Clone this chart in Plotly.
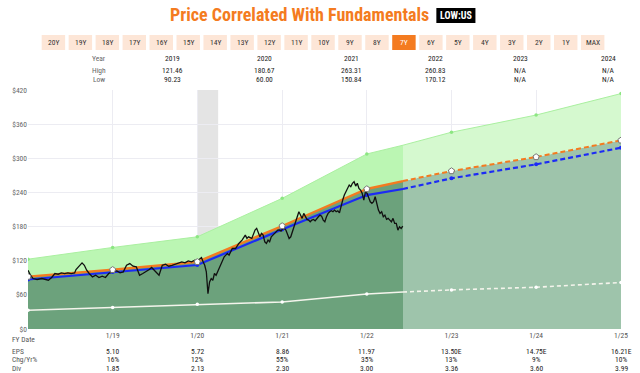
import plotly.graph_objects as go

# ---------------- data ----------------
FY_DATES = ["2018-01-31", "2019-01-31", "2020-01-31", "2021-01-31",
            "2022-01-31", "2023-01-31", "2024-01-31", "2025-01-31"]
SPLIT_DATE = "2022-07-06"          # historical / estimate boundary
N_HIST = 5                          # FY points before the split

UPPER = [122.7, 143.3, 162.0, 229.6, 307.6, 345.8, 376.0, 413.7]
UPPER_SPLIT = 323.0
ORANGE = [92.0, 104.0, 118.0, 181.0, 246.0, 277.6, 302.3, 331.5]
ORANGE_SPLIT = 260.0
BLUE = [87.0, 100.0, 112.5, 175.0, 235.4, 264.8, 289.4, 318.5]
BLUE_SPLIT = 246.0
DIVLINE = [33.0, 37.6, 43.5, 47.5, 61.6, 68.7, 73.4, 81.7]
DIVLINE_SPLIT = 65.0

RECESSION = ["2020-02-01", "2020-04-30"]

PRICE_DATES = [
    "2018-01-31", "2018-02-11", "2018-02-22", "2018-03-11", "2018-04-01", "2018-04-15",
    "2018-04-29", "2018-05-13", "2018-05-27", "2018-06-10", "2018-06-24", "2018-07-08",
    "2018-07-22", "2018-08-05", "2018-08-20", "2018-08-26", "2018-09-10", "2018-09-21",
    "2018-10-01", "2018-10-11", "2018-10-22", "2018-11-05", "2018-11-19", "2018-12-03",
    "2018-12-17", "2018-12-31", "2019-01-14", "2019-01-28", "2019-02-18", "2019-03-04",
    "2019-03-18", "2019-04-01", "2019-04-15", "2019-04-29", "2019-05-13", "2019-05-27",
    "2019-06-10", "2019-06-24", "2019-07-08", "2019-07-18", "2019-07-29", "2019-08-12",
    "2019-08-19", "2019-08-26", "2019-09-02", "2019-09-16", "2019-09-30", "2019-10-14",
    "2019-10-28", "2019-11-11", "2019-11-25", "2019-12-09", "2019-12-23", "2020-01-06",
    "2020-01-20", "2020-01-31", "2020-02-11", "2020-02-18", "2020-02-25", "2020-03-03",
    "2020-03-10", "2020-03-17", "2020-03-24", "2020-03-31", "2020-04-07", "2020-04-14",
    "2020-04-21", "2020-04-28", "2020-05-05", "2020-05-12", "2020-05-19", "2020-05-26",
    "2020-06-02", "2020-06-09", "2020-06-16", "2020-06-23", "2020-06-30", "2020-07-14",
    "2020-07-28", "2020-08-11", "2020-08-18", "2020-08-25", "2020-09-01", "2020-09-08",
    "2020-09-22", "2020-09-29", "2020-10-06", "2020-10-13", "2020-10-20", "2020-10-27",
    "2020-11-03", "2020-11-10", "2020-11-17", "2020-11-24", "2020-12-01", "2020-12-08",
    "2020-12-15", "2020-12-22", "2020-12-29", "2021-01-05", "2021-01-12", "2021-01-19",
    "2021-01-26", "2021-02-02", "2021-02-09", "2021-02-16", "2021-02-23", "2021-03-02",
    "2021-03-09", "2021-03-16", "2021-03-23", "2021-03-30", "2021-04-06", "2021-04-13",
    "2021-04-20", "2021-04-27", "2021-05-04", "2021-05-11", "2021-05-18", "2021-05-25",
    "2021-06-01", "2021-06-08", "2021-06-15", "2021-06-22", "2021-06-29", "2021-07-06",
    "2021-07-13", "2021-07-20", "2021-07-27", "2021-08-03", "2021-08-10", "2021-08-17",
    "2021-08-24", "2021-08-31", "2021-09-07", "2021-09-14", "2021-09-21", "2021-09-28",
    "2021-10-05", "2021-10-12", "2021-10-19", "2021-10-26", "2021-11-02", "2021-11-09",
    "2021-11-16", "2021-11-23", "2021-11-30", "2021-12-07", "2021-12-14", "2021-12-21",
    "2021-12-28", "2022-01-04", "2022-01-11", "2022-01-18", "2022-01-25", "2022-02-01",
    "2022-02-08", "2022-02-15", "2022-02-22", "2022-03-01", "2022-03-08", "2022-03-15",
    "2022-03-22", "2022-03-29", "2022-04-05", "2022-04-12", "2022-04-19", "2022-04-26",
    "2022-05-03", "2022-05-10", "2022-05-17", "2022-05-24", "2022-05-31", "2022-06-07",
    "2022-06-14", "2022-06-21", "2022-06-28", "2022-07-05",
]
PRICE_VALUES = [
    103.3, 94.5, 88.7, 87.0, 88.7, 87.0,
    85.7, 90.5, 97.5, 96.3, 98.6, 97.5,
    98.6, 97.5, 98.6, 104.6, 112.0, 116.2,
    112.0, 103.3, 97.5, 91.5, 94.5, 90.5,
    92.8, 90.5, 97.5, 100.4, 102.2, 98.6,
    100.4, 112.0, 115.0, 110.4, 109.2, 94.5,
    97.5, 100.4, 104.6, 108.1, 103.3, 97.5,
    94.5, 103.3, 112.0, 113.9, 110.4, 112.0,
    113.9, 115.0, 118.0, 116.2, 119.7, 118.0,
    121.0, 119.7, 124.0, 125.7, 118.0, 112.0,
    100.4, 62.0, 82.7, 88.7, 85.7, 97.5,
    94.5, 100.4, 109.2, 115.0, 121.0, 126.8,
    129.8, 132.7, 129.8, 135.6, 141.5, 141.5,
    150.4, 156.2, 162.0, 165.0, 159.2, 162.0,
    159.2, 168.0, 173.8, 176.8, 170.8, 162.0,
    168.0, 165.0, 153.2, 150.4, 156.2, 153.2,
    162.0, 165.0, 168.0, 170.8, 173.8, 174.0,
    172.0, 176.0, 177.0, 174.0, 165.0, 159.0,
    162.0, 171.0, 182.6, 191.4, 200.2, 206.0,
    200.2, 194.4, 203.2, 197.2, 192.6, 191.4,
    188.4, 191.4, 192.6, 190.1, 194.4, 197.2,
    200.2, 198.4, 191.4, 188.4, 197.2, 203.2,
    206.0, 207.7, 206.0, 209.0, 206.0, 207.7,
    204.2, 217.8, 226.6, 235.4, 241.2, 250.0,
    253.0, 250.0, 256.0, 258.8, 251.2, 256.0,
    247.2, 244.2, 238.4, 226.6, 241.2, 238.4,
    229.6, 223.6, 220.8, 223.6, 232.4, 220.8,
    209.0, 203.2, 206.0, 197.2, 200.2, 192.6,
    194.4, 191.4, 188.4, 194.4, 185.6, 185.6,
    173.8, 179.6, 176.8, 180.8,
]

TICK_LABELS = ["1/19", "1/20", "1/21", "1/22", "1/23", "1/24", "1/25"]
EPS = ["5.10", "5.72", "8.86", "11.97", "13.50E", "14.75E", "16.21E"]
CHG = ["16%", "12%", "55%", "35%", "13%", "9%", "10%"]
DIVS = ["1.85", "2.13", "2.30", "3.00", "3.36", "3.60", "3.99"]

YEARS = ["2019", "2020", "2021", "2022", "2023", "2024"]
HIGHS = ["121.46", "180.67", "263.31", "260.83", "N/A", "N/A"]
LOWS = ["90.23", "60.00", "150.84", "170.12", "N/A", "N/A"]

BUTTONS = ["20Y", "19Y", "18Y", "17Y", "16Y", "15Y", "14Y", "13Y", "12Y", "11Y",
           "10Y", "9Y", "8Y", "7Y", "6Y", "5Y", "4Y", "3Y", "2Y", "1Y", "MAX"]
ACTIVE = "7Y"

# ---------------- layout helpers ----------------
FONT = "Liberation Sans Narrow, Roboto Condensed, Roboto, sans-serif"
L, R, T, B = 19, 626, 90, 329
W, H = R - L, B - T


def px(x):
    return (x - L) / W


def py(y):
    return (B - y) / H


HIST_DARK = "rgb(108,162,124)"
HIST_LIGHT = "rgb(187,246,179)"
FC_DARK = "rgb(158,196,171)"
FC_LIGHT = "rgb(213,249,207)"
ORANGE_C = "#f47b20"
BLUE_C = "#1c2bf5"

hx = FY_DATES[:N_HIST] + [SPLIT_DATE]
fx = [SPLIT_DATE] + FY_DATES[N_HIST:]


def seg(vals, split):
    return vals[:N_HIST] + [split], [split] + vals[N_HIST:]


up_h, up_f = seg(UPPER, UPPER_SPLIT)
or_h, or_f = seg(ORANGE, ORANGE_SPLIT)
bl_h, bl_f = seg(BLUE, BLUE_SPLIT)
dv_h, dv_f = seg(DIVLINE, DIVLINE_SPLIT)

fig = go.Figure()

# fills
fig.add_trace(go.Scatter(x=hx, y=or_h, mode="lines", line=dict(width=0),
                         fill="tozeroy", fillcolor=HIST_DARK, hoverinfo="skip"))
fig.add_trace(go.Scatter(x=hx, y=up_h, mode="lines", line=dict(width=0),
                         fill="tonexty", fillcolor=HIST_LIGHT, hoverinfo="skip"))
fig.add_trace(go.Scatter(x=fx, y=or_f, mode="lines", line=dict(width=0),
                         fill="tozeroy", fillcolor=FC_DARK, hoverinfo="skip"))
fig.add_trace(go.Scatter(x=fx, y=up_f, mode="lines", line=dict(width=0),
                         fill="tonexty", fillcolor=FC_LIGHT, hoverinfo="skip"))

# upper line
fig.add_trace(go.Scatter(x=hx + fx[1:], y=up_h + up_f[1:], mode="lines",
                         line=dict(color="rgb(170,240,160)", width=1)))
fig.add_trace(go.Scatter(x=FY_DATES, y=UPPER, mode="markers",
                         marker=dict(color="rgb(140,230,130)", size=3.5)))

# dividend line
fig.add_trace(go.Scatter(x=hx, y=dv_h, mode="lines",
                         line=dict(color="#f4f4ec", width=1.6)))
fig.add_trace(go.Scatter(x=fx, y=dv_f, mode="lines",
                         line=dict(color="#f4f4ec", width=1.6, dash="4px,3px")))
fig.add_trace(go.Scatter(x=FY_DATES, y=DIVLINE, mode="markers",
                         marker=dict(color="#ffffff", size=3.5)))

# orange line
fig.add_trace(go.Scatter(x=hx, y=or_h, mode="lines",
                         line=dict(color=ORANGE_C, width=2.4)))
fig.add_trace(go.Scatter(x=fx, y=or_f, mode="lines",
                         line=dict(color=ORANGE_C, width=2.0, dash="5px,3px")))

# blue line
fig.add_trace(go.Scatter(x=hx, y=bl_h, mode="lines",
                         line=dict(color=BLUE_C, width=2.2)))
fig.add_trace(go.Scatter(x=fx, y=bl_f, mode="lines",
                         line=dict(color=BLUE_C, width=2.2, dash="5px,3px")))
fig.add_trace(go.Scatter(x=FY_DATES, y=BLUE, mode="markers",
                         marker=dict(color=BLUE_C, size=4)))

# price
fig.add_trace(go.Scatter(x=PRICE_DATES, y=PRICE_VALUES, mode="lines",
                         line=dict(color="#111111", width=1.3)))

# orange markers
fig.add_trace(go.Scatter(x=FY_DATES, y=ORANGE, mode="markers",
                         marker=dict(symbol="pentagon", color="#ffffff", size=6.5,
                                     line=dict(color="#777777", width=1))))

shapes = [
    dict(type="rect", xref="x", yref="paper", x0=RECESSION[0], x1=RECESSION[1],
         y0=0, y1=1, fillcolor="#e4e4e4", line=dict(width=0), layer="below"),
]
ann = []

# title + badge
ann.append(dict(x=px(296.5), y=py(14.5), xref="paper", yref="paper",
                text="<b>Price Correlated With Fundamentals</b>", showarrow=False,
                font=dict(family=FONT, size=18, color=ORANGE_C),
                xanchor="center", yanchor="middle"))
shapes.append(dict(type="rect", xref="paper", yref="paper", x0=px(437), x1=px(477),
                   y0=py(23), y1=py(8), fillcolor="#000000", line=dict(width=0),
                   layer="above"))
ann.append(dict(x=px(457), y=py(15.5), xref="paper", yref="paper",
                text="<b>LOW:US</b>", showarrow=False,
                font=dict(family=FONT, size=10, color="#ffffff"),
                xanchor="center", yanchor="middle"))

# buttons
for i, lab in enumerate(BUTTONS):
    cx = 45 + i * 27.6
    active = lab == ACTIVE
    shapes.append(dict(type="rect", xref="paper", yref="paper",
                       x0=px(cx - 12), x1=px(cx + 12), y0=py(50), y1=py(35),
                       fillcolor=ORANGE_C if active else "#fde6d7",
                       line=dict(width=0), layer="above"))
    ann.append(dict(x=px(cx), y=py(42.5), xref="paper", yref="paper", text=lab,
                    showarrow=False, xanchor="center", yanchor="middle",
                    font=dict(family=FONT, size=7.5,
                              color="#ffffff" if active else "#333333")))

# top table
for lab, yy in (("Year", 58), ("High", 70), ("Low", 79)):
    ann.append(dict(x=px(92), y=py(yy), xref="paper", yref="paper", text=lab,
                    showarrow=False, xanchor="center", yanchor="middle",
                    font=dict(family=FONT, size=7.5, color="#666666")))
YEAR_X = [167, 261, 350, 436, 523, 613]
for j in range(len(YEARS)):
    for vals, yy in ((YEARS, 58), (HIGHS, 70), (LOWS, 79)):
        ann.append(dict(x=px(YEAR_X[j]), y=py(yy), xref="paper", yref="paper",
                        text=vals[j], showarrow=False, xanchor="center",
                        yanchor="middle",
                        font=dict(family=FONT, size=7.5, color="#222222")))

# bottom table
for lab, yy in (("FY Date", 339), ("EPS", 351), ("Chg/Yr%", 359.5), ("Div", 368)):
    ann.append(dict(x=px(1), y=py(yy), xref="paper", yref="paper", text=lab,
                    showarrow=False, xanchor="left", yanchor="middle",
                    font=dict(family=FONT, size=7.5, color="#555555")))
for j in range(len(TICK_LABELS)):
    for vals, yy in ((EPS, 351), (CHG, 359.5), (DIVS, 368)):
        ann.append(dict(x=FY_DATES[j + 1], y=py(yy), xref="x", yref="paper",
                        text=vals[j], showarrow=False, xanchor="center",
                        yanchor="middle",
                        font=dict(family=FONT, size=7.5, color="#222222")))

fig.update_layout(
    width=640, height=373,
    margin=dict(l=L, r=640 - R, t=T, b=373 - B),
    paper_bgcolor="#ffffff", plot_bgcolor="#ffffff",
    showlegend=False,
    font=dict(family=FONT, size=7.5, color="#555555"),
    shapes=shapes, annotations=ann,
    xaxis=dict(type="date", range=[FY_DATES[0], FY_DATES[-1]],
               tickvals=FY_DATES, ticktext=[""] + TICK_LABELS,
               showgrid=True, gridcolor="#ececf2", gridwidth=1,
               zeroline=False, showline=False, ticks="",
               tickfont=dict(family=FONT, size=7.5, color="#555555")),
    yaxis=dict(range=[0, 420], dtick=60, tick0=0, tickprefix="$",
               showgrid=True, gridcolor="#ececf2", gridwidth=1,
               zeroline=False, showline=False, ticks="",
               tickfont=dict(family=FONT, size=7.5, color="#666666")),
)

fig.write_html("out.html", config={"displayModeBar": False},
               post_script="document.body.style.margin='0px';"
                           "document.body.style.padding='0px';"
                           "document.body.style.overflow='hidden';")
